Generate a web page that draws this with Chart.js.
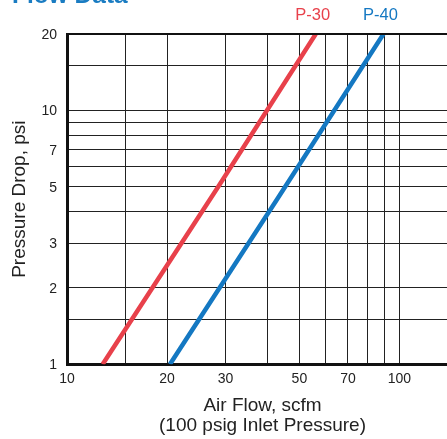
<!DOCTYPE html>
<html>
<head>
<meta charset="utf-8">
<script src="https://cdn.jsdelivr.net/npm/chart.js@4.4.1/dist/chart.umd.min.js"></script>
<style>
  html, body { margin: 0; padding: 0; background: #fff; overflow: hidden; }
  body { width: 447px; height: 439px; position: relative; }
  #wrap { position: absolute; left: 0; top: 0; width: 460px; height: 439px; }
  #head { position: absolute; left: 12px; top: -17px; font: bold 24.5px "Liberation Sans", Arial, sans-serif; line-height: 1; color: #1a7cc2; white-space: nowrap; z-index: 2; }
</style>
</head>
<body>
<div id="head">Flow Data</div>
<div id="wrap"><canvas id="c" width="460" height="439"></canvas></div>
<script>
// ---- data ----
const seriesNames = ['P-30', 'P-40'];
const seriesColors = ['#e8414b', '#1478c2'];
const p30Flow = [12.8, 28.5, 56];
const p30Drop = [1, 5, 20];
const p40Flow = [20.4, 43, 89.5];
const p40Drop = [1, 4.5, 20];
const xGridValues = [10, 15, 20, 30, 40, 50, 60, 70, 80, 90, 100];
const xTickLabels = [10, 20, 30, 50, 70, 100];
const yGridValues = [1, 1.5, 2, 3, 4, 5, 6, 7, 8, 9, 10, 15, 20];
const yTickLabels = [1, 2, 3, 5, 7, 10, 20];
const xTitle = ['Air Flow, scfm', '(100 psig Inlet Pressure)'];
const yTitle = 'Pressure Drop, psi';

const FONT = '"Liberation Sans", Arial, sans-serif';
const toPoints = (xs, ys) => xs.map((x, i) => ({ x: x, y: ys[i] }));

// draws the top frame line, the y-axis tick labels / title, and the series labels
const frameAndLabels = {
  id: 'frameAndLabels',
  afterDraw(chart) {
    const { ctx, chartArea } = chart;
    const ys = chart.scales.y;
    ctx.save();
    ctx.setTransform(1, 0, 0, 1, 0, 0);
    ctx.strokeStyle = '#111';
    ctx.lineWidth = 2;
    ctx.beginPath();
    ctx.moveTo(chartArea.left - 1, chartArea.top);
    ctx.lineTo(chartArea.right, chartArea.top);
    ctx.stroke();

    // y tick labels
    ctx.fillStyle = '#222';
    ctx.font = '14px ' + FONT;
    ctx.textAlign = 'right';
    ctx.textBaseline = 'middle';
    yTickLabels.forEach(v => {
      ctx.fillText(String(v), chartArea.left - 10, ys.getPixelForValue(v) + 1);
    });

    // y title
    ctx.save();
    ctx.translate(19.5, (chartArea.top + chartArea.bottom) / 2);
    ctx.rotate(-Math.PI / 2);
    ctx.font = '19px ' + FONT;
    ctx.textAlign = 'center';
    ctx.textBaseline = 'middle';
    ctx.fillText(yTitle, 0, 0);
    ctx.restore();

    // series labels above the frame
    ctx.font = '16.5px ' + FONT;
    ctx.textAlign = 'center';
    ctx.textBaseline = 'middle';
    chart.data.datasets.forEach((ds, i) => {
      const meta = chart.getDatasetMeta(i);
      const last = meta.data[meta.data.length - 1];
      ctx.fillStyle = ds.borderColor;
      ctx.fillText(ds.label, last.x - 3, chartArea.top - 19);
    });
    ctx.restore();
  }
};

new Chart(document.getElementById('c'), {
  type: 'line',
  data: {
    datasets: [
      { label: seriesNames[0], data: toPoints(p30Flow, p30Drop), borderColor: seriesColors[0], borderWidth: 4.5, pointRadius: 0, tension: 0, fill: false },
      { label: seriesNames[1], data: toPoints(p40Flow, p40Drop), borderColor: seriesColors[1], borderWidth: 4.5, pointRadius: 0, tension: 0, fill: false }
    ]
  },
  options: {
    responsive: false,
    animation: false,
    layout: { padding: { left: 67, top: 34, right: 2, bottom: 0 } },
    plugins: { legend: { display: false }, tooltip: { enabled: false } },
    scales: {
      x: {
        type: 'logarithmic',
        position: 'bottom',
        min: 10,
        max: 150,
        afterBuildTicks: (s) => { s.ticks = xGridValues.map(v => ({ value: v })); },
        ticks: {
          autoSkip: false, minRotation: 0, maxRotation: 0, padding: 6, color: '#222',
          font: { family: FONT, size: 14 },
          callback: (v) => xTickLabels.includes(v) ? String(v) : ''
        },
        grid: { color: '#222', lineWidth: 1, drawTicks: false },
        border: { display: true, color: '#111', width: 3 },
        title: { display: true, text: xTitle, color: '#222', font: { family: FONT, size: 19, lineHeight: 1.05 }, padding: { top: 3, bottom: 3 } }
      },
      y: {
        type: 'logarithmic',
        position: 'left',
        min: 1,
        max: 20,
        afterBuildTicks: (s) => { s.ticks = yGridValues.map(v => ({ value: v })); },
        ticks: { display: false },
        grid: { color: '#222', lineWidth: 1, drawTicks: false },
        border: { display: true, color: '#111', width: 3 },
        title: { display: false }
      }
    }
  },
  plugins: [frameAndLabels]
});
</script>
</body>
</html>
